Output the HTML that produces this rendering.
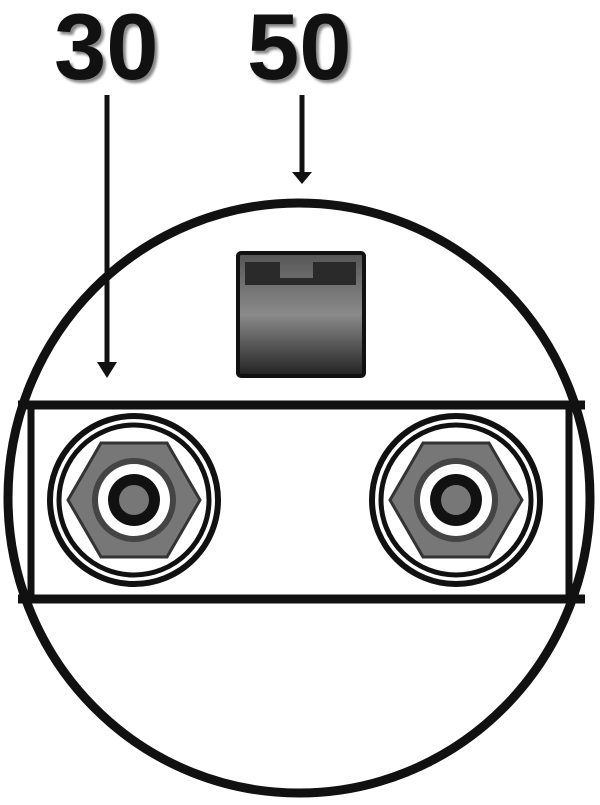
<!DOCTYPE html>
<html><head><style>
html,body{margin:0;padding:0;background:#fff;width:600px;height:805px;overflow:hidden}
</style></head><body>
<svg width="600" height="805" viewBox="0 0 600 805" xmlns="http://www.w3.org/2000/svg">
<defs>
<linearGradient id="g" x1="0" y1="0" x2="0" y2="1">
<stop offset="0" stop-color="#555"/><stop offset="0.5" stop-color="#8a8a8a"/><stop offset="1" stop-color="#222"/>
</linearGradient>
<filter id="sh"><feGaussianBlur stdDeviation="1.2"/></filter>
</defs>
<g font-family="Liberation Sans, sans-serif" font-weight="bold" font-size="94">
<text x="57" y="82" fill="#888" filter="url(#sh)">30</text>
<text x="54" y="79" fill="#111">30</text>
<text x="250" y="82" fill="#888" filter="url(#sh)">50</text>
<text x="247" y="79" fill="#111">50</text>
</g>
<line x1="107" y1="95" x2="107" y2="365" stroke="#111" stroke-width="5"/>
<path d="M97 362 L117 362 L107 378 Z" fill="#111"/>
<line x1="302" y1="95" x2="302" y2="172" stroke="#111" stroke-width="5"/>
<path d="M292 172 L312 172 L302 184 Z" fill="#111"/>
<ellipse cx="299" cy="498" rx="291" ry="295" fill="none" stroke="#111" stroke-width="9"/>
<rect x="238" y="253" width="126" height="123" rx="3" fill="url(#g)" stroke="#111" stroke-width="4"/>
<path d="M245 262 H280 V278 H313 V262 H356 V285 H245 Z" fill="#2a2a2a"/>
<line x1="18" y1="405" x2="585" y2="405" stroke="#111" stroke-width="9"/>
<line x1="18" y1="599" x2="585" y2="599" stroke="#111" stroke-width="9"/>
<line x1="31" y1="405" x2="31" y2="599" stroke="#111" stroke-width="7"/>
<line x1="569" y1="405" x2="569" y2="599" stroke="#111" stroke-width="7"/>
<g id="nut">
<circle cx="134" cy="500" r="84" fill="#fff" stroke="#111" stroke-width="6"/>
<circle cx="134" cy="500" r="75" fill="none" stroke="#111" stroke-width="5"/>
<path d="M68 500 L101 443 L167 443 L200 500 L167 557 L101 557 Z" fill="#777" stroke="#333" stroke-width="3"/>
<circle cx="134" cy="500" r="42" fill="#444"/>
<circle cx="134" cy="500" r="36" fill="#fff"/>
<circle cx="134" cy="500" r="26" fill="#111"/>
<circle cx="134" cy="500" r="15" fill="#777"/>
</g>
<use href="#nut" transform="translate(322 0)"/>
</svg>
</body></html>
